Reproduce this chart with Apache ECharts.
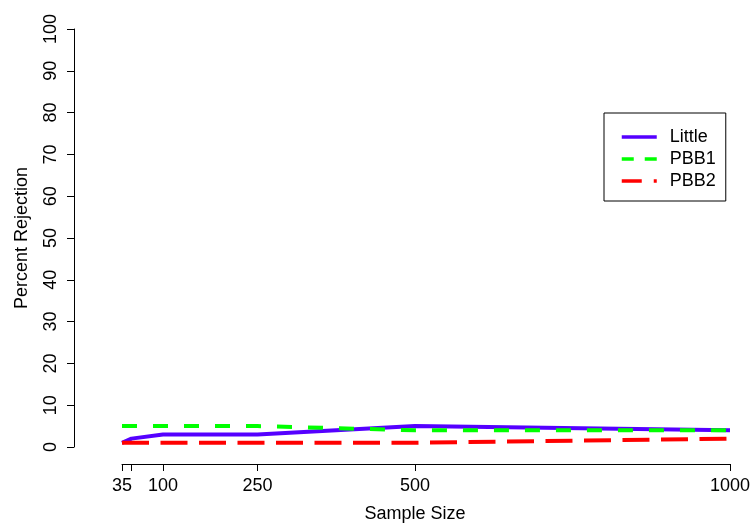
<!DOCTYPE html>
<html><head><meta charset="utf-8">
<script src="https://cdn.jsdelivr.net/npm/echarts@6/dist/echarts.min.js"></script>
<style>html,body{margin:0;padding:0;background:#fff}#c{width:752px;height:524px}</style>
</head><body><div id="c"></div>
<script>
const sampleSizes = [35, 50, 100, 250, 500, 1000];
const xTickValues = [35, 50, 100, 250, 500, 1000];
const xLabelValues = [35, 100, 250, 500, 1000];
const yTickValues = [0, 10, 20, 30, 40, 50, 60, 70, 80, 90, 100];
const littleValues = [1, 2, 3, 3, 5, 4];
const pbb1Values = [5, 5, 5, 5, 4, 4];
const pbb2Values = [1, 1, 1, 1, 1, 2];
const seriesNames = ['Little', 'PBB1', 'PBB2'];

const FONT = "'Liberation Sans', Arial, sans-serif";
const pair = (vals) => sampleSizes.map((x, i) => [x, vals[i]]);

const chart = echarts.init(document.getElementById('c'), null, {renderer: 'canvas'});
chart.setOption({
  backgroundColor: '#fff',
  animation: false,
  textStyle: {fontFamily: FONT},
  grid: {left: 122, right: 22, top: 29, bottom: 77, containLabel: false, outerBoundsMode: 'none'},
  legend: {
    orient: 'vertical', left: 604, top: 113,
    padding: [15, 10, 11, 16],
    itemWidth: 35, itemHeight: 14, itemGap: 4,
    borderColor: '#000', borderWidth: 1, borderRadius: 0,
    selectedMode: false,
    itemStyle: {opacity: 0, borderWidth: 0},
    lineStyle: {width: 3.5},
    textStyle: {fontSize: 18, color: '#000', fontFamily: FONT, padding: [0, 0, 0, 8], lineHeight: 18},
    data: [
      {name: seriesNames[0], lineStyle: {width: 3.5}},
      {name: seriesNames[1], lineStyle: {width: 3.5, type: [12, 11]}},
      {name: seriesNames[2], lineStyle: {width: 3.5, type: [20, 12]}}
    ]
  },
  xAxis: {
    type: 'value', min: 35, max: 1000, offset: 17,
    axisLine: {show: true, onZero: false, lineStyle: {color: '#000', width: 1}},
    axisTick: {show: true, length: 7, customValues: xTickValues, lineStyle: {color: '#000'}},
    axisLabel: {customValues: xLabelValues, formatter: (v) => String(v), fontSize: 18, color: '#000', margin: 13, lineHeight: 18, fontFamily: FONT},
    splitLine: {show: false},
    name: 'Sample Size', nameLocation: 'middle', nameGap: 41,
    nameTextStyle: {fontSize: 18, color: '#000', fontFamily: FONT, lineHeight: 18, padding: [0, 22, 0, 0]}
  },
  yAxis: {
    type: 'value', min: 0, max: 100, offset: 48,
    axisLine: {show: true, onZero: false, lineStyle: {color: '#000', width: 1}},
    axisTick: {show: true, length: 7, customValues: yTickValues, lineStyle: {color: '#000'}},
    axisLabel: {customValues: yTickValues, rotate: 90, fontSize: 18, color: '#000', margin: 14, lineHeight: 18, fontFamily: FONT},
    splitLine: {show: false},
    name: 'Percent Rejection', nameLocation: 'middle', nameGap: 43, nameRotate: 90,
    nameTextStyle: {fontSize: 18, color: '#000', fontFamily: FONT, lineHeight: 18}
  },
  series: [
    {name: seriesNames[0], type: 'line', data: pair(littleValues), symbol: 'none',
     lineStyle: {color: '#5500ff', width: 4}, itemStyle: {color: '#5500ff'}},
    {name: seriesNames[1], type: 'line', data: pair(pbb1Values), symbol: 'none',
     lineStyle: {color: '#00ff00', width: 4, type: [15, 16], cap: 'butt'}, itemStyle: {color: '#00ff00'}},
    {name: seriesNames[2], type: 'line', data: pair(pbb2Values), symbol: 'none',
     lineStyle: {color: '#ff0000', width: 4, type: [27, 11.5], cap: 'butt'}, itemStyle: {color: '#ff0000'}}
  ]
});
</script></body></html>
